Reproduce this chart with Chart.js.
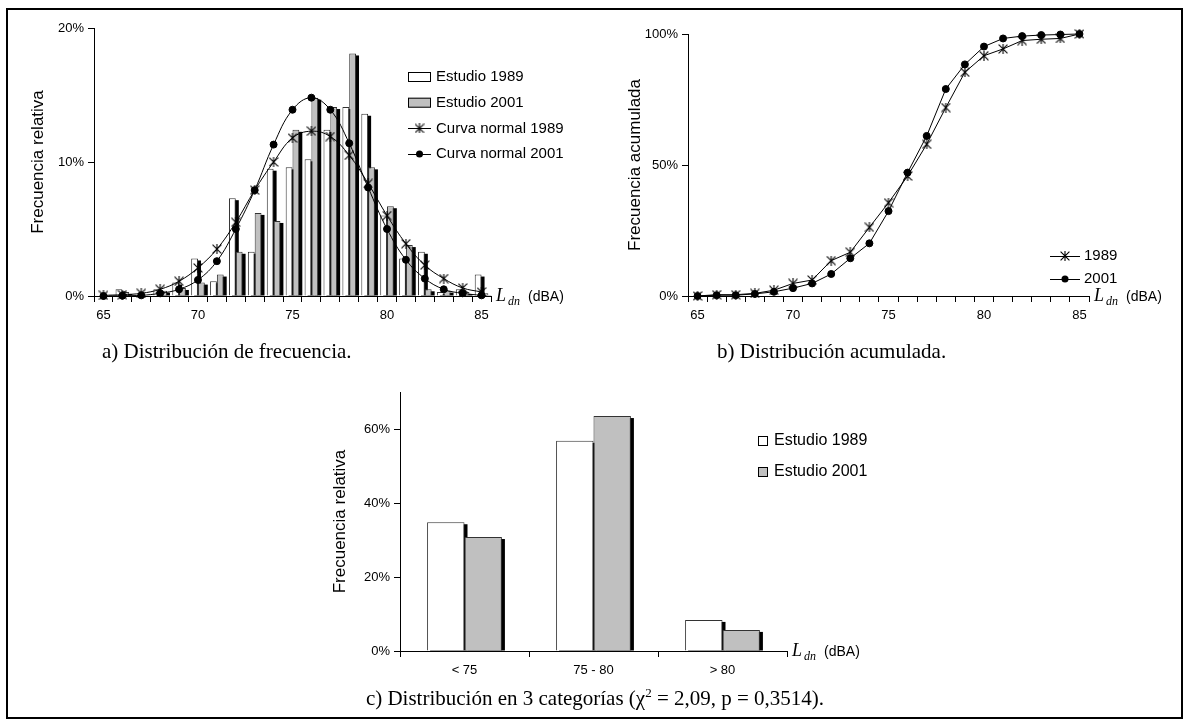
<!DOCTYPE html>
<html>
<head>
<meta charset="utf-8">
<script src="https://cdn.jsdelivr.net/npm/chart.js@4.4.1/dist/chart.umd.min.js"></script>
<style>
  html, body { margin: 0; padding: 0; background: #fff; }
  #frame { position: absolute; left: 6px; top: 8px; width: 1177px; height: 711px; border: 2px solid #000; box-sizing: border-box; }
  .box { position: absolute; }
  .cap { position: absolute; font-family: "Liberation Serif", "Times New Roman", serif; font-size: 21px; color: #000; white-space: nowrap; }
</style>
</head>
<body>
<div id="frame"></div>
<div class="box" style="left:0;top:0"><canvas id="chartA" width="595" height="345"></canvas></div>
<div class="box" style="left:595px;top:0"><canvas id="chartB" width="595" height="345"></canvas></div>
<div class="box" style="left:0;top:370px"><canvas id="chartC" width="1190" height="330"></canvas></div>
<div class="cap" style="left:102px;top:339px">a) Distribución de frecuencia.</div>
<div class="cap" style="left:717px;top:339px">b) Distribución acumulada.</div>
<div class="cap" style="left:0;width:1190px;text-align:center;top:685px">c) Distribución en 3 categorías (χ<sup style="font-size:13px">2</sup> = 2,09, p = 0,3514).</div>

<script>
// L dn classes (dBA)
const ldn = ['65','66','67','68','69','70','71','72','73','74','75','76','77','78','79','80','81','82','83','84','85'];

// relative frequency (%)
const freq1989 = [0, 0.5, 0, 0.5, 1.0, 2.8, 1.1, 7.3, 3.3, 9.5, 9.6, 10.2, 12.4, 14.1, 13.6, 6.0, 2.8, 3.3, 0.3, 0.5, 1.6];
const freq2001 = [0, 0.3, 0, 0.4, 0.6, 1.0, 1.6, 3.3, 6.2, 5.6, 12.4, 14.8, 14.1, 18.1, 9.6, 6.7, 3.8, 0.5, 0.4, 0.3, 0.2];

// normal curves (%)
const norm1989 = [0.05, 0.1, 0.2, 0.5, 1.1, 2.1, 3.5, 5.5, 7.9, 10.0, 11.8, 12.3, 11.9, 10.5, 8.4, 6.0, 3.9, 2.3, 1.3, 0.6, 0.3];
const norm2001 = [0, 0.02, 0.05, 0.2, 0.5, 1.2, 2.6, 5.0, 7.9, 11.3, 13.9, 14.8, 13.9, 11.4, 8.1, 5.0, 2.7, 1.3, 0.5, 0.2, 0.05];

// cumulative frequency (%)
const cum1989 = [0, 0.5, 0.5, 1.0, 2.2, 4.8, 6.1, 13.5, 16.7, 26.2, 35.6, 45.8, 57.9, 71.9, 85.4, 91.7, 94.3, 97.5, 98.0, 98.3, 100];
const cum2001 = [0, 0.3, 0.3, 0.8, 1.6, 3.0, 4.8, 8.4, 14.4, 20.1, 32.4, 47.1, 61.1, 79.0, 88.4, 95.2, 98.3, 99.2, 99.6, 99.8, 100];

// 3 categories (%)
const cats3 = ['< 75', '75 - 80', '> 80'];
const cat1989 = [34.8, 56.8, 8.4];
const cat2001 = [30.8, 63.5, 5.7];

const SANS = '"Liberation Sans", Arial, sans-serif';
const SERIF = '"Liberation Serif", "Times New Roman", serif';

// excel-like star marker: X plus vertical stroke
function starMarker(size) {
  const c = document.createElement('canvas');
  c.width = c.height = size;
  const g = c.getContext('2d');
  const m = size / 2, r = size / 2 - 0.6;
  g.strokeStyle = '#000';
  g.lineWidth = 1.1;
  g.beginPath();
  g.moveTo(m - r, m - r); g.lineTo(m + r, m + r);
  g.moveTo(m + r, m - r); g.lineTo(m - r, m + r);
  g.moveTo(m, 0); g.lineTo(m, size);
  g.stroke();
  return c;
}
const star = starMarker(10);

// black drop shadow behind every bar
const barShadow = {
  id: 'barShadow',
  beforeDatasetsDraw(chart) {
    const ctx = chart.ctx;
    ctx.save();
    ctx.fillStyle = '#000';
    chart.data.datasets.forEach((ds, i) => {
      const meta = chart.getDatasetMeta(i);
      if (meta.type !== 'bar') return;
      meta.data.forEach(bar => {
        const p = bar.getProps(['x', 'y', 'base', 'width'], true);
        if (p.base - p.y < 1) return;
        ctx.fillRect(p.x - p.width / 2 + 3, p.y + 2, p.width, p.base - p.y - 2);
      });
    });
    ctx.restore();
  }
};

// "L dn (dBA)" after the end of the x axis
const unitLabel = {
  id: 'unitLabel',
  afterDraw(chart) {
    const { ctx, chartArea } = chart;
    const x = chartArea.right + 5, y = chartArea.bottom + 5;
    ctx.save();
    ctx.fillStyle = '#000';
    ctx.textBaseline = 'alphabetic';
    ctx.font = 'italic 18px ' + SERIF;
    ctx.fillText('L', x, y);
    let w = ctx.measureText('L').width + 2;
    ctx.font = 'italic 12px ' + SERIF;
    ctx.fillText('dn', x + w, y + 4);
    w += ctx.measureText('dn').width + 8;
    ctx.font = '14px ' + SANS;
    ctx.fillText('(dBA)', x + w, y);
    ctx.restore();
  }
};

// legend drawn inside the plot
const innerLegend = {
  id: 'innerLegend',
  afterDraw(chart, args, o) {
    const ctx = chart.ctx;
    ctx.save();
    ctx.font = o.size + 'px ' + SANS;
    ctx.textBaseline = 'middle';
    chart.data.datasets.forEach((ds, i) => {
      const y = o.y + i * o.gap;
      const type = ds.type || chart.config.type;
      if (type === 'bar') {
        ctx.fillStyle = ds.backgroundColor;
        ctx.strokeStyle = '#000';
        ctx.lineWidth = 1;
        ctx.fillRect(o.x, y - o.keyH / 2, o.keyW, o.keyH);
        ctx.strokeRect(o.x + 0.5, y - o.keyH / 2 + 0.5, o.keyW - 1, o.keyH - 1);
      } else {
        ctx.strokeStyle = '#000';
        ctx.lineWidth = 1;
        ctx.beginPath();
        ctx.moveTo(o.x, Math.round(y) + 0.5);
        ctx.lineTo(o.x + o.keyW, Math.round(y) + 0.5);
        ctx.stroke();
        const cx = o.x + o.keyW / 2;
        if (ds.pointStyle === 'circle') {
          ctx.fillStyle = '#000';
          ctx.beginPath();
          ctx.arc(cx, y, ds.pointRadius, 0, Math.PI * 2);
          ctx.fill();
        } else {
          ctx.drawImage(ds.pointStyle, cx - ds.pointStyle.width / 2, y - ds.pointStyle.height / 2);
        }
      }
      ctx.fillStyle = '#000';
      ctx.fillText(ds.label, o.x + o.keyW + o.pad, y);
    });
    ctx.restore();
  }
};

const tickFont = { family: SANS, size: 13 };
const titleFont = { family: SANS, size: 17 };

function yAxis(max, step, width, title, titleAt) {
  return {
    min: 0, max: max,
    border: { display: true, color: '#000', width: 1 },
    grid: { drawOnChartArea: false, drawTicks: true, tickLength: 6, color: '#000' },
    ticks: { stepSize: step, includeBounds: false, color: '#000', font: tickFont, padding: 4,
             callback: v => v + '%' },
    title: { display: true, text: title, color: '#000', font: titleFont, padding: { top: titleAt, bottom: 0 } },
    afterFit: s => { s.width = width; }
  };
}

function xAxis(height, every) {
  return {
    offset: true,
    border: { display: true, color: '#000', width: 1 },
    grid: { offset: true, drawOnChartArea: false, drawTicks: true, tickLength: 6, color: '#000' },
    ticks: {
      autoSkip: false, maxRotation: 0, color: '#000', font: tickFont, padding: 6,
      callback: function (v) {
        const l = this.getLabelForValue(v);
        return every ? (Number(l) % every === 0 ? l : '') : l;
      }
    },
    afterFit: s => { s.height = height; }
  };
}

const common = {
  responsive: false,
  animation: false,
  devicePixelRatio: 1,
  events: [],
  plugins: { legend: { display: false }, tooltip: { enabled: false } }
};

// a) frequency distribution
new Chart(document.getElementById('chartA'), {
  data: {
    labels: ldn,
    datasets: [
      { type: 'bar', label: 'Estudio 1989', data: freq1989, backgroundColor: '#ffffff', borderColor: '#333',
        borderWidth: 1, categoryPercentage: 0.72, barPercentage: 1, order: 2 },
      { type: 'bar', label: 'Estudio 2001', data: freq2001, backgroundColor: '#c0c0c0', borderColor: '#333',
        borderWidth: 1, categoryPercentage: 0.72, barPercentage: 1, order: 2 },
      { type: 'line', label: 'Curva normal 1989', data: norm1989, borderColor: '#000', borderWidth: 1,
        tension: 0.4, pointStyle: star, pointRadius: 5, clip: false, order: 1 },
      { type: 'line', label: 'Curva normal 2001', data: norm2001, borderColor: '#000', borderWidth: 1,
        tension: 0.4, pointStyle: 'circle', pointRadius: 3.5, pointBackgroundColor: '#000',
        pointBorderColor: '#000', clip: false, order: 0 }
    ]
  },
  options: Object.assign({}, common, {
    layout: { padding: { left: 0, top: 28, right: 104, bottom: 0 } },
    scales: { x: xAxis(49, 5), y: yAxis(20, 10, 94, 'Frecuencia relativa', 28) },
    plugins: Object.assign({}, common.plugins, {
      innerLegend: { x: 408, y: 77, gap: 25.7, keyW: 23, keyH: 10, pad: 5, size: 15 }
    })
  }),
  plugins: [barShadow, unitLabel, innerLegend]
});

// b) cumulative distribution
new Chart(document.getElementById('chartB'), {
  type: 'line',
  data: {
    labels: ldn,
    datasets: [
      { label: '1989', data: cum1989, borderColor: '#000', borderWidth: 1, tension: 0,
        pointStyle: star, pointRadius: 5, clip: false },
      { label: '2001', data: cum2001, borderColor: '#000', borderWidth: 1, tension: 0,
        pointStyle: 'circle', pointRadius: 3.5, pointBackgroundColor: '#000', pointBorderColor: '#000', clip: false }
    ]
  },
  options: Object.assign({}, common, {
    layout: { padding: { left: 0, top: 34, right: 101, bottom: 0 } },
    scales: { x: xAxis(49, 5), y: yAxis(100, 50, 93, 'Frecuencia acumulada', 30) },
    plugins: Object.assign({}, common.plugins, {
      innerLegend: { x: 455, y: 256, gap: 23, keyW: 30, keyH: 10, pad: 4, size: 15 }
    })
  }),
  plugins: [unitLabel, innerLegend]
});

// c) three categories
new Chart(document.getElementById('chartC'), {
  type: 'bar',
  data: {
    labels: cats3,
    datasets: [
      { label: 'Estudio 1989', data: cat1989, backgroundColor: '#ffffff', borderColor: '#333', borderWidth: 1,
        categoryPercentage: 0.58, barPercentage: 1 },
      { label: 'Estudio 2001', data: cat2001, backgroundColor: '#c0c0c0', borderColor: '#333', borderWidth: 1,
        categoryPercentage: 0.58, barPercentage: 1 }
    ]
  },
  options: Object.assign({}, common, {
    layout: { padding: { left: 0, top: 22, right: 403, bottom: 0 } },
    scales: { x: xAxis(49, 0), y: yAxis(70, 20, 400, 'Frecuencia relativa', 330) },
    plugins: Object.assign({}, common.plugins, {
      innerLegend: { x: 758, y: 71, gap: 31, keyW: 10, keyH: 10, pad: 6, size: 16 }
    })
  }),
  plugins: [barShadow, unitLabel, innerLegend]
});
</script>
</body>
</html>
